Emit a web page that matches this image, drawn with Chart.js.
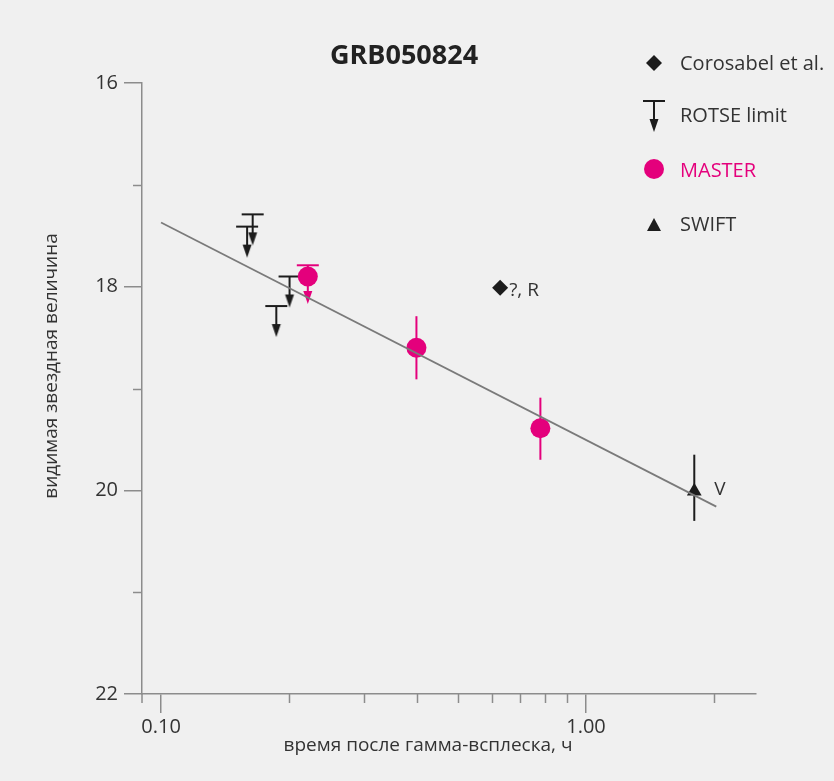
<!DOCTYPE html>
<html><head><meta charset="utf-8">
<script src="https://cdn.jsdelivr.net/npm/chart.js@4/dist/chart.umd.min.js"></script>
<style>html,body{margin:0;padding:0;background:#f0f0f0;} canvas{display:block;}</style>
</head><body>
<canvas id="c" width="834" height="781"></canvas>
<script>
// ---- text ----
const chartTitle = 'GRB050824';
const xAxisTitle = 'время после гамма-всплеска, ч';
const yAxisTitle = 'видимая звездная величина';
const legendLabels = ['Corosabel et al.', 'ROTSE limit', 'MASTER', 'SWIFT'];

// ---- ticks ----
const xTickValues = [0.1, 1];
const xTickLabels = ['0.10', '1.00'];
const xMinorTicks = [0.2, 0.3, 0.4, 0.5, 0.6, 0.7, 0.8, 0.9, 2];
const yTickValues = [16, 18, 20, 22];
const yMinorTicks = [17, 19, 21];

// ---- data ----
const corosabelTime = [0.628];
const corosabelMag = [18.01];
const corosabelNote = ['?, R'];

const rotseTime = [0.1643, 0.1594, 0.2006, 0.1867];
const rotseLimit = [17.29, 17.41, 17.90, 18.19];

const masterTime = [0.2215, 0.399, 0.781];
const masterMag = [17.90, 18.60, 19.39];
const masterUpper = [17.79, 18.29, 19.09];
const masterLower = [18.17, 18.91, 19.70];
const masterLowerIsLimit = [true, false, false];

const swiftTime = [1.798];
const swiftMag = [20.01];
const swiftUpper = [19.65];
const swiftLower = [20.30];
const swiftNote = ['V'];

const fitTime = [0.1, 2.026];
const fitMag = [17.37, 20.16];

// ---- styles ----
const MAGENTA = '#e4007c';
const BLACK = '#1c1c1c';
const AXIS = '#8c8c8c';
const TEXT = '#333333';
const FONT = '"Open Sans", "Noto Sans", sans-serif';
const ARROW_LEN = 31;

function makeLimitGlyph(color) {
  const c = document.createElement('canvas');
  c.width = 26; c.height = 2 * ARROW_LEN + 4;
  const g = c.getContext('2d');
  const cx = 13, cy = c.height / 2;
  g.strokeStyle = color; g.fillStyle = color; g.lineWidth = 2;
  g.beginPath(); g.moveTo(cx - 11, cy); g.lineTo(cx + 11, cy); g.stroke();
  g.beginPath(); g.moveTo(cx, cy); g.lineTo(cx, cy + ARROW_LEN - 10); g.stroke();
  g.beginPath(); g.moveTo(cx - 4.5, cy + ARROW_LEN - 13); g.lineTo(cx + 4.5, cy + ARROW_LEN - 13);
  g.lineTo(cx, cy + ARROW_LEN); g.closePath(); g.fill();
  return c;
}
const rotseGlyph = makeLimitGlyph(BLACK);

const zip = (xs, ys) => xs.map((x, i) => ({ x: x, y: ys[i] }));

const decorPlugin = {
  id: 'decor',
  beforeDraw(chart) {
    const ctx = chart.ctx;
    ctx.save();
    ctx.fillStyle = '#f0f0f0';
    ctx.fillRect(0, 0, chart.width, chart.height);
    ctx.restore();
  },
  beforeDatasetsDraw(chart) {
    const ctx = chart.ctx, xs = chart.scales.x, ys = chart.scales.y;
    ctx.save();
    ctx.lineWidth = 2;
    masterTime.forEach((t, i) => {
      const px = xs.getPixelForValue(t);
      const yTop = ys.getPixelForValue(masterUpper[i]);
      const yBot = ys.getPixelForValue(masterLower[i]);
      ctx.strokeStyle = MAGENTA; ctx.fillStyle = MAGENTA;
      if (masterLowerIsLimit[i]) {
        ctx.beginPath(); ctx.moveTo(px - 11, yTop); ctx.lineTo(px + 11, yTop); ctx.stroke();
        ctx.beginPath(); ctx.moveTo(px, yTop); ctx.lineTo(px, yBot - 10); ctx.stroke();
        ctx.beginPath(); ctx.moveTo(px - 4.5, yBot - 13); ctx.lineTo(px + 4.5, yBot - 13);
        ctx.lineTo(px, yBot); ctx.closePath(); ctx.fill();
      } else {
        ctx.beginPath(); ctx.moveTo(px, yTop); ctx.lineTo(px, yBot); ctx.stroke();
      }
    });
    swiftTime.forEach((t, i) => {
      const px = xs.getPixelForValue(t);
      ctx.strokeStyle = BLACK;
      ctx.beginPath();
      ctx.moveTo(px, ys.getPixelForValue(swiftUpper[i]));
      ctx.lineTo(px, ys.getPixelForValue(swiftLower[i]));
      ctx.stroke();
    });
    ctx.restore();
  },
  afterDraw(chart) {
    const ctx = chart.ctx, xs = chart.scales.x, ys = chart.scales.y;
    const area = chart.chartArea;
    ctx.save();
    ctx.strokeStyle = AXIS; ctx.lineWidth = 1.5;
    xMinorTicks.forEach(v => {
      const px = Math.round(xs.getPixelForValue(v)) + 0.5;
      ctx.beginPath(); ctx.moveTo(px, area.bottom); ctx.lineTo(px, area.bottom + 9); ctx.stroke();
    });
    yMinorTicks.forEach(v => {
      const py = Math.round(ys.getPixelForValue(v)) + 0.5;
      ctx.beginPath(); ctx.moveTo(area.left - 9, py); ctx.lineTo(area.left, py); ctx.stroke();
    });
    ctx.beginPath(); ctx.moveTo(area.left, area.bottom); ctx.lineTo(area.left, area.bottom + 9); ctx.stroke();

    ctx.fillStyle = TEXT;
    ctx.font = '19px ' + FONT;
    ctx.textAlign = 'left'; ctx.textBaseline = 'alphabetic';
    corosabelTime.forEach((t, i) => {
      ctx.fillText(corosabelNote[i], xs.getPixelForValue(t) + 9, ys.getPixelForValue(corosabelMag[i]) + 8);
    });
    swiftTime.forEach((t, i) => {
      ctx.fillText(swiftNote[i], xs.getPixelForValue(t) + 20, ys.getPixelForValue(swiftMag[i]) + 4);
    });

    ctx.fillStyle = '#222222';
    ctx.font = 'bold 27px ' + FONT;
    ctx.textAlign = 'center';
    ctx.fillText(chartTitle, 404, 64);

    ctx.fillStyle = TEXT;
    ctx.font = '19px ' + FONT;
    ctx.fillText(xAxisTitle, 428, 751);
    ctx.save();
    ctx.translate(57, 366);
    ctx.rotate(-Math.PI / 2);
    ctx.fillText(yAxisTitle, 0, 0);
    ctx.restore();

    const lx = 654, tx = 680;
    ctx.fillStyle = BLACK;
    ctx.beginPath();
    ctx.moveTo(lx, 63 - 8); ctx.lineTo(lx + 8, 63); ctx.lineTo(lx, 63 + 8); ctx.lineTo(lx - 8, 63);
    ctx.closePath(); ctx.fill();
    ctx.drawImage(rotseGlyph, lx - rotseGlyph.width / 2, 101 - rotseGlyph.height / 2);
    ctx.fillStyle = MAGENTA;
    ctx.beginPath(); ctx.arc(lx, 169, 10, 0, Math.PI * 2); ctx.fill();
    ctx.fillStyle = BLACK;
    ctx.beginPath();
    ctx.moveTo(lx, 218); ctx.lineTo(lx + 7, 231); ctx.lineTo(lx - 7, 231); ctx.closePath(); ctx.fill();

    ctx.font = '20px ' + FONT;
    ctx.textAlign = 'left';
    const baselines = [70, 122, 177, 231];
    legendLabels.forEach((lab, i) => {
      ctx.fillStyle = i === 2 ? MAGENTA : TEXT;
      ctx.fillText(lab, tx, baselines[i]);
    });
    ctx.restore();
  }
};

const chart = new Chart(document.getElementById('c'), {
  type: 'scatter',
  data: {
    datasets: [
      {
        label: legendLabels[2], data: zip(masterTime, masterMag),
        pointStyle: 'circle', pointRadius: 10, pointHoverRadius: 10,
        backgroundColor: MAGENTA, borderWidth: 0, order: 2
      },
      {
        label: legendLabels[0], data: zip(corosabelTime, corosabelMag),
        pointStyle: 'rectRot', pointRadius: 8, pointHoverRadius: 8,
        backgroundColor: BLACK, borderWidth: 0, order: 2
      },
      {
        label: legendLabels[3], data: zip(swiftTime, swiftMag),
        pointStyle: 'triangle', pointRadius: 8.5, pointHoverRadius: 8.5,
        backgroundColor: BLACK, borderWidth: 0, order: 2
      },
      {
        label: legendLabels[1], data: zip(rotseTime, rotseLimit),
        pointStyle: rotseGlyph, pointRadius: 3, pointHoverRadius: 3, order: 2
      },
      {
        type: 'line', label: 'fit', data: zip(fitTime, fitMag),
        borderColor: '#7a7a7a', borderWidth: 1.7, pointRadius: 0, fill: false, order: 1
      }
    ]
  },
  options: {
    responsive: false,
    animation: false,
    devicePixelRatio: 1,
    events: [],
    layout: { padding: { left: 0, right: 78, top: 83, bottom: 0 } },
    plugins: { legend: { display: false }, tooltip: { enabled: false }, title: { display: false } },
    scales: {
      x: {
        type: 'logarithmic', min: 0.0902, max: 2.512, bounds: 'data',
        afterBuildTicks: s => { s.ticks = xTickValues.map(v => ({ value: v })); },
        afterFit: s => { s.height = 87; },
        ticks: {
          autoSkip: false, maxRotation: 0, padding: 2, color: TEXT,
          font: { family: FONT, size: 20 },
          callback: (v) => { const i = xTickValues.indexOf(v); return i >= 0 ? xTickLabels[i] : ''; }
        },
        grid: { drawOnChartArea: false, drawTicks: true, tickLength: 19, color: AXIS, lineWidth: 1.5 },
        border: { display: true, color: AXIS, width: 1.5 }
      },
      y: {
        type: 'linear', min: 16, max: 22, reverse: true,
        afterBuildTicks: s => { s.ticks = yTickValues.map(v => ({ value: v })); },
        afterFit: s => { s.width = 142; },
        ticks: { padding: 6, color: TEXT, font: { family: FONT, size: 20 } },
        grid: { drawOnChartArea: false, drawTicks: true, tickLength: 18, color: AXIS, lineWidth: 1.5 },
        border: { display: true, color: AXIS, width: 1.5 }
      }
    }
  },
  plugins: [decorPlugin]
});
</script>
</body></html>
